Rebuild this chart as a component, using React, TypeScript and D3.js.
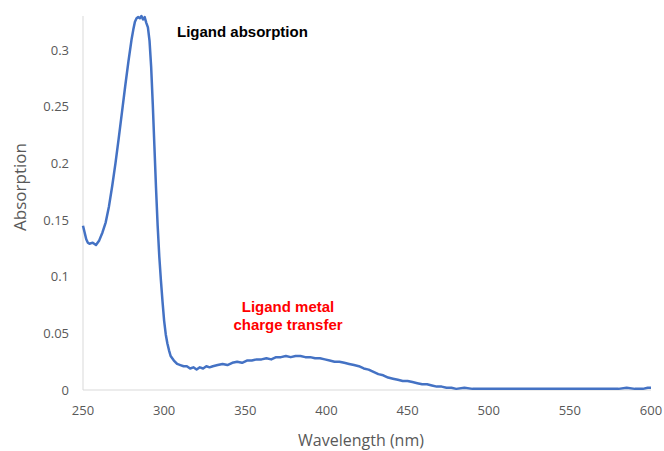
import { useEffect, useRef } from "react";
import * as d3 from "d3";

// wavelength (nm) and absorption
const wavelength = [
  250, 251, 252, 253, 254, 256, 258, 260, 262, 264, 266, 268, 270, 272, 274, 276, 278, 280,
  281, 282, 283, 284, 285, 286, 287, 288, 289, 290, 291, 292, 293, 294, 295, 296, 297, 298,
  299, 300, 301, 302, 303, 304, 306, 308, 310, 312, 314, 316, 318, 320, 322, 324, 326, 328,
  330, 333, 336, 339, 342, 345, 348, 351, 354, 357, 360, 363, 366, 369, 372, 375, 378, 381,
  384, 387, 390, 393, 396, 399, 402, 405, 408, 411, 414, 417, 420, 423, 426, 429, 432, 435,
  438, 441, 444, 447, 450, 453, 456, 459, 462, 465, 468, 471, 474, 477, 480, 485, 490, 495,
  500, 510, 520, 530, 540, 550, 560, 570, 580, 585, 590, 595, 598, 600,
];
const absorption = [
  0.145, 0.139, 0.133, 0.13, 0.129, 0.13, 0.128, 0.132, 0.139, 0.148, 0.162, 0.18, 0.2, 0.222,
  0.245, 0.268, 0.29, 0.31, 0.318, 0.325, 0.328, 0.329, 0.328, 0.33, 0.327, 0.329, 0.324, 0.32,
  0.308, 0.285, 0.252, 0.215, 0.178, 0.145, 0.118, 0.097, 0.078, 0.061, 0.049, 0.041, 0.035,
  0.03, 0.026, 0.023, 0.022, 0.021, 0.021, 0.019, 0.02, 0.018, 0.02, 0.019, 0.021, 0.02, 0.021,
  0.022, 0.023, 0.022, 0.024, 0.025, 0.024, 0.026, 0.026, 0.027, 0.027, 0.028, 0.027, 0.029,
  0.029, 0.03, 0.029, 0.03, 0.03, 0.029, 0.029, 0.028, 0.028, 0.027, 0.026, 0.025, 0.025, 0.024,
  0.023, 0.022, 0.021, 0.019, 0.018, 0.016, 0.014, 0.013, 0.011, 0.01, 0.009, 0.008, 0.008,
  0.007, 0.006, 0.005, 0.005, 0.004, 0.003, 0.003, 0.002, 0.002, 0.001, 0.002, 0.001, 0.001,
  0.001, 0.001, 0.001, 0.001, 0.001, 0.001, 0.001, 0.001, 0.001, 0.002, 0.001, 0.001, 0.002,
  0.002,
];
const xTicks = [250, 300, 350, 400, 450, 500, 550, 600];
const yTicks = [0, 0.05, 0.1, 0.15, 0.2, 0.25, 0.3];

export default function App() {
  const svgRef = useRef<SVGSVGElement>(null);

  useEffect(() => {
    const svg = d3.select(svgRef.current);
    svg.selectAll("*").remove();

    const w = 664, h = 451;
    const left = 83, right = 651, top = 16, bottom = 390;
    const font = "'Open Sans', 'Noto Sans', sans-serif";

    const x = d3.scaleLinear().domain([250, 600]).range([left, right]);
    const y = d3.scaleLinear().domain([0, 0.33]).range([bottom, top]);

    svg.append("rect").attr("width", w).attr("height", h).attr("fill", "#fff");

    // axis lines
    svg.append("line")
      .attr("x1", left).attr("x2", left).attr("y1", top).attr("y2", bottom)
      .attr("stroke", "#d9d9d9").attr("stroke-width", 1);
    svg.append("line")
      .attr("x1", left).attr("x2", right).attr("y1", bottom).attr("y2", bottom)
      .attr("stroke", "#d9d9d9").attr("stroke-width", 1);

    svg.append("g").selectAll("text").data(yTicks).join("text")
      .attr("x", left - 14)
      .attr("y", (d) => y(d))
      .attr("dy", "0.35em")
      .attr("text-anchor", "end")
      .attr("fill", "#595959")
      .attr("font-size", "13px")
      .attr("font-family", font)
      .text((d) => String(d));

    svg.append("g").selectAll("text").data(xTicks).join("text")
      .attr("x", (d) => x(d))
      .attr("y", bottom + 20)
      .attr("dy", "0.35em")
      .attr("text-anchor", "middle")
      .attr("fill", "#595959")
      .attr("font-size", "13px")
      .attr("font-family", font)
      .text((d) => String(d));

    const pts = wavelength.map((d, i) => [d, absorption[i]] as [number, number]);
    const line = d3.line<[number, number]>()
      .x((d) => x(d[0]))
      .y((d) => y(d[1]));

    svg.append("path")
      .datum(pts)
      .attr("d", line)
      .attr("fill", "none")
      .attr("stroke", "#4472c4")
      .attr("stroke-width", 2.5)
      .attr("stroke-linejoin", "round");

    svg.append("text")
      .attr("x", 361)
      .attr("y", 440)
      .attr("dy", "0.35em")
      .attr("text-anchor", "middle")
      .attr("fill", "#595959")
      .attr("font-size", "16px")
      .attr("font-family", font)
      .text("Wavelength (nm)");

    svg.append("text")
      .attr("transform", "translate(20,187) rotate(-90)")
      .attr("dy", "0.35em")
      .attr("text-anchor", "middle")
      .attr("fill", "#595959")
      .attr("font-size", "17px")
      .attr("font-family", font)
      .text("Absorption");

    svg.append("text")
      .attr("x", 177)
      .attr("y", 37)
      .attr("fill", "#000")
      .attr("font-size", "15px")
      .attr("font-weight", "bold")
      .attr("font-family", "'Liberation Sans', Arial, sans-serif")
      .text("Ligand absorption");

    const note = svg.append("text")
      .attr("text-anchor", "middle")
      .attr("fill", "#ff0000")
      .attr("font-size", "15px")
      .attr("font-weight", "bold")
      .attr("font-family", "'Liberation Sans', Arial, sans-serif");
    note.append("tspan").attr("x", 288).attr("y", 312).text("Ligand metal");
    note.append("tspan").attr("x", 288).attr("y", 330).text("charge transfer");
  }, []);

  return <svg ref={svgRef} width={664} height={451} style={{ position: "absolute", left: 0, top: 0 }} />;
}
